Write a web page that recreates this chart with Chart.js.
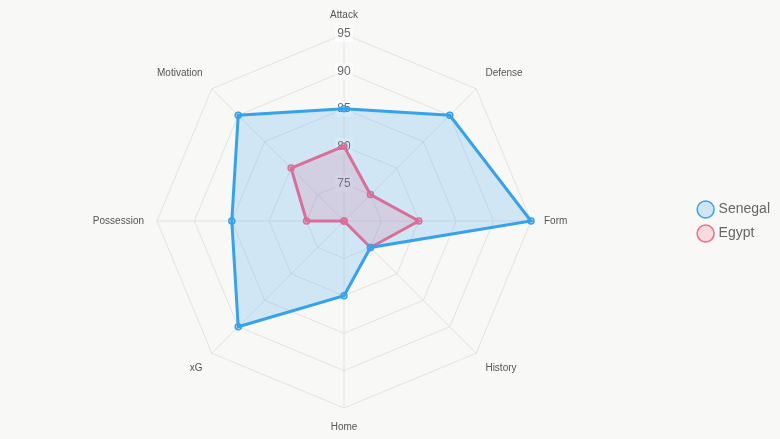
<!DOCTYPE html>
<html>
<head>
<meta charset="utf-8">
<script src="https://cdn.jsdelivr.net/npm/chart.js@4"></script>
<style>
  html, body { margin: 0; padding: 0; background: #f8f8f7; }
  #wrap { width: 780px; height: 439px; }
</style>
</head>
<body>
<div id="wrap"><canvas id="radar"></canvas></div>
<script>
// axes and team ratings
const categories = ['Attack', 'Defense', 'Form', 'History', 'Home', 'xG', 'Possession', 'Motivation'];
const senegal = [85, 90, 95, 75, 80, 90, 85, 90];
const egypt = [80, 75, 80, 75, 70, 70, 75, 80];
const tickValues = [70, 75, 80, 85, 90, 95];

const ctx = document.getElementById('radar').getContext('2d');

new Chart(ctx, {
    type: 'radar',
    data: {
        labels: categories,
        datasets: [{
            label: 'Senegal',
            data: senegal,
            borderColor: 'rgb(54, 162, 235)',
            backgroundColor: 'rgba(54, 162, 235, 0.2)',
            borderWidth: 3,
            pointRadius: 3,
            pointBorderWidth: 1.5,
            pointBackgroundColor: 'rgba(54, 162, 235, 0.2)',
            fill: true
        }, {
            label: 'Egypt',
            data: egypt,
            borderColor: 'rgb(255, 99, 132)',
            backgroundColor: 'rgba(255, 99, 132, 0.2)',
            borderWidth: 3,
            pointRadius: 3,
            pointBorderWidth: 1.5,
            pointBackgroundColor: 'rgba(255, 99, 132, 0.2)',
            fill: true
        }]
    },
    options: {
        responsive: true,
        maintainAspectRatio: false,
        animation: false,
        layout: { padding: { top: 9, bottom: 5, left: 0, right: 0 } },
        plugins: {
            legend: {
                position: 'right',
                labels: {
                    usePointStyle: true,
                    pointStyle: 'circle',
                    boxWidth: 12,
                    boxHeight: 12,
                    color: '#666',
                    font: { size: 14, family: 'Arial, Liberation Sans, sans-serif' },
                    padding: 10
                }
            },
            tooltip: { enabled: false }
        },
        scales: {
            r: {
                min: 70,
                max: 95,
                afterBuildTicks: (axis) => {
                    axis.ticks = tickValues.map(v => ({ value: v }));
                },
                ticks: {
                    color: '#666',
                    font: { size: 12, family: 'Arial, Liberation Sans, sans-serif' },
                    backdropColor: 'rgba(255, 255, 255, 0.75)'
                },
                grid: { color: '#e2e2e2' },
                angleLines: { color: '#e2e2e2' },
                pointLabels: {
                    color: '#555',
                    font: { size: 10, family: 'Arial, Liberation Sans, sans-serif' }
                }
            }
        }
    }
});
</script>
</body>
</html>
